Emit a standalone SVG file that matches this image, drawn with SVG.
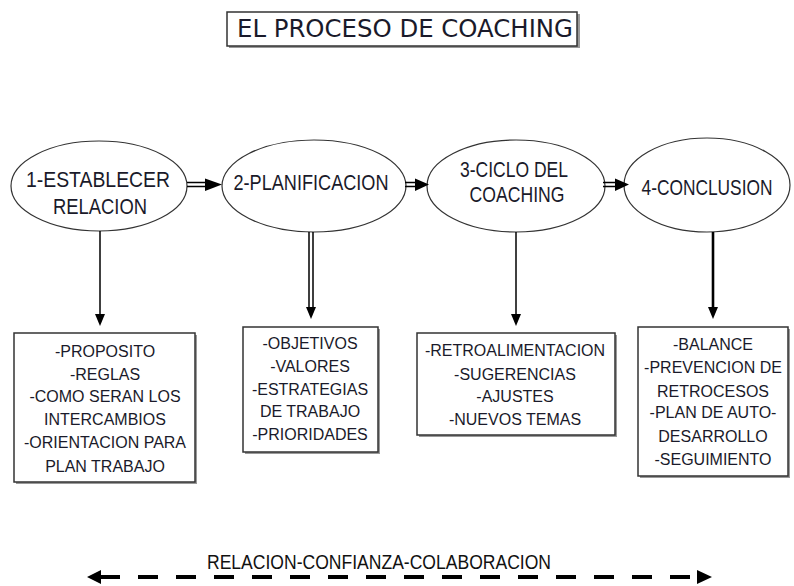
<svg xmlns="http://www.w3.org/2000/svg" width="794" height="586" viewBox="0 0 794 586">
<style>
.ell{fill:#fff;stroke:#333;stroke-width:1.2}
.box{fill:#fff;stroke:#333;stroke-width:1.5}
.sh{fill:#999}
.et{font-family:"Liberation Sans",Arial,sans-serif;font-size:22px;fill:#1a1a2a;text-anchor:middle}
.bt{font-family:"Liberation Sans",Arial,sans-serif;font-size:16px;fill:#1a1a2a;text-anchor:middle}
.ln{stroke:#000;stroke-width:1.5;fill:none}
.hd{fill:#000}
</style>
<rect width="794" height="586" fill="#fff"/>
<g id="title">
<rect class="sh" x="229" y="14" width="351" height="34"/>
<rect class="box" x="227" y="12" width="350" height="34"/>
<text x="405" y="37" font-family="'DejaVu Sans',Verdana,sans-serif" font-size="24" fill="#1a1a2a" text-anchor="middle" textLength="336" lengthAdjust="spacingAndGlyphs">EL PROCESO DE COACHING</text>
</g>
<g id="n1">
<ellipse class="ell" cx="99" cy="186" rx="88" ry="45"/>
<text class="et" x="98" y="187" textLength="144" lengthAdjust="spacingAndGlyphs">1-ESTABLECER</text>
<text class="et" x="100" y="214" textLength="94" lengthAdjust="spacingAndGlyphs">RELACION</text>
</g>
<g id="n2">
<ellipse class="ell" cx="314" cy="186" rx="92" ry="46"/>
<text class="et" x="311" y="190" textLength="155" lengthAdjust="spacingAndGlyphs">2-PLANIFICACION</text>
</g>
<g id="n3">
<ellipse class="ell" cx="516" cy="186" rx="89" ry="46"/>
<text class="et" x="514" y="177" font-size="20" textLength="108" lengthAdjust="spacingAndGlyphs">3-CICLO DEL</text>
<text class="et" x="517" y="202" font-size="20" textLength="95" lengthAdjust="spacingAndGlyphs">COACHING</text>
</g>
<g id="n4">
<ellipse class="ell" cx="707" cy="185" rx="83" ry="47"/>
<text class="et" x="707" y="195" font-size="21" textLength="131" lengthAdjust="spacingAndGlyphs">4-CONCLUSION</text>
</g>
<g id="b1">
<rect class="sh" x="16" y="335" width="181" height="149"/>
<rect class="box" x="14" y="333" width="181" height="149"/>
<text class="bt" x="105" y="357">-PROPOSITO</text>
<text class="bt" x="105" y="380">-REGLAS</text>
<text class="bt" x="105" y="402">-COMO SERAN LOS</text>
<text class="bt" x="105" y="425">INTERCAMBIOS</text>
<text class="bt" x="105" y="448">-ORIENTACION PARA</text>
<text class="bt" x="105" y="472">PLAN TRABAJO</text>
</g>
<g id="b2">
<rect class="sh" x="245" y="329" width="135" height="125"/>
<rect class="box" x="243" y="327" width="135" height="125"/>
<text class="bt" x="310" y="349">-OBJETIVOS</text>
<text class="bt" x="310" y="372">-VALORES</text>
<text class="bt" x="310" y="395">-ESTRATEGIAS</text>
<text class="bt" x="310" y="417">DE TRABAJO</text>
<text class="bt" x="310" y="440">-PRIORIDADES</text>
</g>
<g id="b3">
<rect class="sh" x="419" y="335" width="198" height="102"/>
<rect class="box" x="417" y="333" width="198" height="102"/>
<text class="bt" x="515" y="356">-RETROALIMENTACION</text>
<text class="bt" x="515" y="380">-SUGERENCIAS</text>
<text class="bt" x="515" y="402">-AJUSTES</text>
<text class="bt" x="515" y="425">-NUEVOS TEMAS</text>
</g>
<g id="b4">
<rect class="sh" x="640" y="329" width="150" height="149"/>
<rect class="box" x="638" y="327" width="150" height="149"/>
<text class="bt" x="713" y="350">-BALANCE</text>
<text class="bt" x="713" y="373">-PREVENCION DE</text>
<text class="bt" x="713" y="397">RETROCESOS</text>
<text class="bt" x="713" y="418">-PLAN DE AUTO-</text>
<text class="bt" x="713" y="442">DESARROLLO</text>
<text class="bt" x="713" y="465">-SEGUIMIENTO</text>
</g>
<g id="connectors">
<path class="ln" d="M187 182.5H207M187 186.5H207"/>
<polygon class="hd" points="205,178.5 222,184.5 205,191"/>
<path class="ln" d="M405 182.5H417M405 186.5H417"/>
<polygon class="hd" points="415,178.5 429,184.5 415,191"/>
<path class="ln" d="M603 182.5H617M603 186.5H617"/>
<polygon class="hd" points="615,178.5 629,184.5 615,191"/>
<path class="ln" d="M100 231V315"/>
<polygon class="hd" points="95,314 105,314 100,326"/>
<path class="ln" d="M309 232V308M313 232V308"/>
<polygon class="hd" points="306,307 316,307 311,319"/>
<path class="ln" d="M516 232V315"/>
<polygon class="hd" points="511,314 521,314 516,326"/>
<path class="ln" style="stroke-width:2.6" d="M713 232V308"/>
<polygon class="hd" points="708,307 718,307 713,319"/>
<text x="379" y="569" font-family="'Liberation Sans',Arial,sans-serif" font-size="20" fill="#111" text-anchor="middle" textLength="344" lengthAdjust="spacingAndGlyphs">RELACION-CONFIANZA-COLABORACION</text>
<path d="M100 577H697" stroke="#000" stroke-width="4" stroke-dasharray="20 18" fill="none"/>
<polygon class="hd" points="87,577 101,570 101,584"/>
<polygon class="hd" points="712,577 697,570 697,584"/>
</g>
</svg>
